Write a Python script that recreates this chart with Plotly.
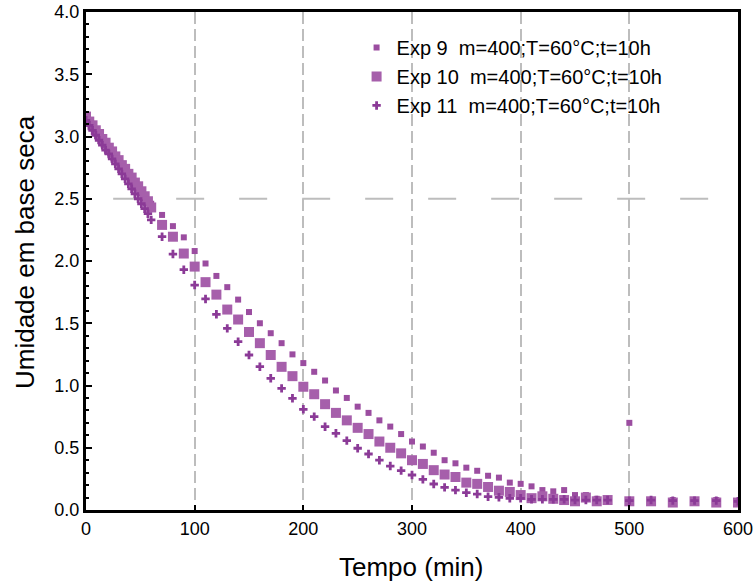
import plotly.graph_objects as go

# Time (min)
tempo = [0, 3, 6, 9, 12, 15, 18, 21, 24, 27, 30, 33, 36, 39, 42, 45, 48, 51, 54, 57,
         60, 70, 80, 90, 100, 110, 120, 130, 140, 150, 160, 170, 180, 190, 200, 210,
         220, 230, 240, 250, 260, 270, 280, 290, 300, 310, 320, 330, 340, 350, 360,
         370, 380, 390, 400, 410, 420, 430, 440, 450, 460, 470, 480,
         500, 520, 540, 560, 580, 600]

exp9 = [3.14, 3.10, 3.07, 3.03, 3.00, 2.96, 2.93, 2.89, 2.86, 2.82, 2.79, 2.75, 2.72, 2.68, 2.65, 2.61, 2.58, 2.55, 2.52, 2.49,
        2.46, 2.37, 2.28, 2.19, 2.08, 1.98, 1.88, 1.79, 1.69, 1.59, 1.50, 1.42, 1.34, 1.25, 1.18, 1.11,
        1.04, 0.96, 0.90, 0.83, 0.78, 0.72, 0.67, 0.61, 0.55, 0.51, 0.46, 0.40, 0.375, 0.34, 0.315,
        0.275, 0.26, 0.22, 0.21, 0.19, 0.16, 0.15, 0.16, 0.12, 0.12, 0.09, 0.09,
        0.70, 0.08, 0.08, 0.07, 0.08, 0.07]

exp10 = [3.16, 3.12, 3.09, 3.05, 3.02, 2.98, 2.95, 2.91, 2.88, 2.84, 2.81, 2.77, 2.74, 2.70, 2.67, 2.63, 2.60, 2.56, 2.52, 2.48,
         2.43, 2.29, 2.195, 2.06, 1.955, 1.83, 1.73, 1.61, 1.53, 1.43, 1.34, 1.245, 1.15, 1.075, 0.99, 0.93,
         0.85, 0.78, 0.72, 0.66, 0.61, 0.55, 0.50, 0.455, 0.40, 0.37, 0.32, 0.285, 0.265, 0.22, 0.21,
         0.185, 0.155, 0.145, 0.12, 0.095, 0.11, 0.09, 0.08, 0.07, 0.10, 0.07, 0.08,
         0.07, 0.07, 0.06, 0.07, 0.06, 0.06]

exp11 = [3.13, 3.09, 3.05, 3.01, 2.97, 2.93, 2.89, 2.86, 2.82, 2.78, 2.74, 2.70, 2.66, 2.62, 2.58, 2.54, 2.50, 2.46, 2.42, 2.38,
         2.33, 2.195, 2.056, 1.93, 1.807, 1.695, 1.572, 1.459, 1.352, 1.245, 1.151, 1.058, 0.977, 0.897, 0.809, 0.75,
         0.669, 0.616, 0.557, 0.496, 0.45, 0.40, 0.353, 0.316, 0.281, 0.246, 0.209, 0.182, 0.16, 0.139, 0.128,
         0.107, 0.102, 0.094, 0.094, 0.086, 0.086, 0.086, 0.086, 0.08, 0.08, 0.08, 0.08,
         0.075, 0.08, 0.075, 0.075, 0.075, 0.07]

labels = ["Exp 9  m=400;T=60°C;t=10h",
          "Exp 10  m=400;T=60°C;t=10h",
          "Exp 11  m=400;T=60°C;t=10h"]

x_ticks = [0, 100, 200, 300, 400, 500, 600]
y_ticks = [0.0, 0.5, 1.0, 1.5, 2.0, 2.5, 3.0, 3.5, 4.0]

FONT = "Liberation Sans, Arial, sans-serif"

fig = go.Figure()
fig.add_trace(go.Scatter(x=tempo, y=exp9, mode="markers", name=labels[0],
                         marker=dict(symbol="square", size=6, color="#9b4da0")))
fig.add_trace(go.Scatter(x=tempo, y=exp10, mode="markers", name=labels[1],
                         marker=dict(symbol="square", size=10, color="#a65fab")))
fig.add_trace(go.Scatter(x=tempo, y=exp11, mode="markers", name=labels[2],
                         marker=dict(symbol="cross", size=7, color="#8b3a97")))

# horizontal dashed reference line at 2.5
fig.add_shape(type="line", xref="x", yref="y", x0=25, x1=574, y0=2.5, y1=2.5,
              line=dict(color="#bdbdbd", width=2, dash="28px,35px"), layer="below")

# axis titles as annotations for precise placement
fig.add_annotation(text="Tempo (min)", xref="paper", yref="paper", x=0.498, y=-0.114,
                   xanchor="center", yanchor="middle", showarrow=False,
                   font=dict(size=26, family=FONT, color="black"))
fig.add_annotation(text="Umidade em base seca", xref="paper", yref="paper", x=-0.0936, y=0.518,
                   xanchor="center", yanchor="middle", textangle=-90, showarrow=False,
                   font=dict(size=26, family=FONT, color="black"))

fig.update_layout(
    width=755, height=582,
    margin=dict(l=86, r=17, t=12, b=72),
    paper_bgcolor="white", plot_bgcolor="white",
    font=dict(family=FONT, color="black"),
    showlegend=True,
    legend=dict(x=0.415, y=0.968, xanchor="left", yanchor="top",
                bgcolor="rgba(0,0,0,0)", font=dict(size=20, family=FONT),
                itemsizing="trace", tracegroupgap=0),
    xaxis=dict(range=[0, 600], tickvals=x_ticks, ticktext=[str(v) for v in x_ticks],
               showline=True, linecolor="black", linewidth=3, mirror=True,
               ticks="inside", ticklen=5, tickwidth=2, tickcolor="black",
               showgrid=True, gridcolor="#bdbdbd", gridwidth=2, griddash="12px,5px",
               zeroline=False, tickfont=dict(size=18), automargin=False,
               ticklabeloverflow="allow"),
    yaxis=dict(range=[0, 4], tickvals=y_ticks, ticktext=[f"{v:.1f}" for v in y_ticks],
               showline=True, linecolor="black", linewidth=3, mirror=True,
               ticks="inside", ticklen=6, tickwidth=2, tickcolor="black",
               minor=dict(dtick=0.1, ticks="inside", ticklen=3, tickcolor="black", tickwidth=2, showgrid=False),
               showgrid=False, zeroline=False, tickfont=dict(size=18), automargin=False,
               ticklabeloverflow="allow"),
)

fig.write_html("out.html", config={"displayModeBar": False},
               post_script="document.body.style.margin='0';")
